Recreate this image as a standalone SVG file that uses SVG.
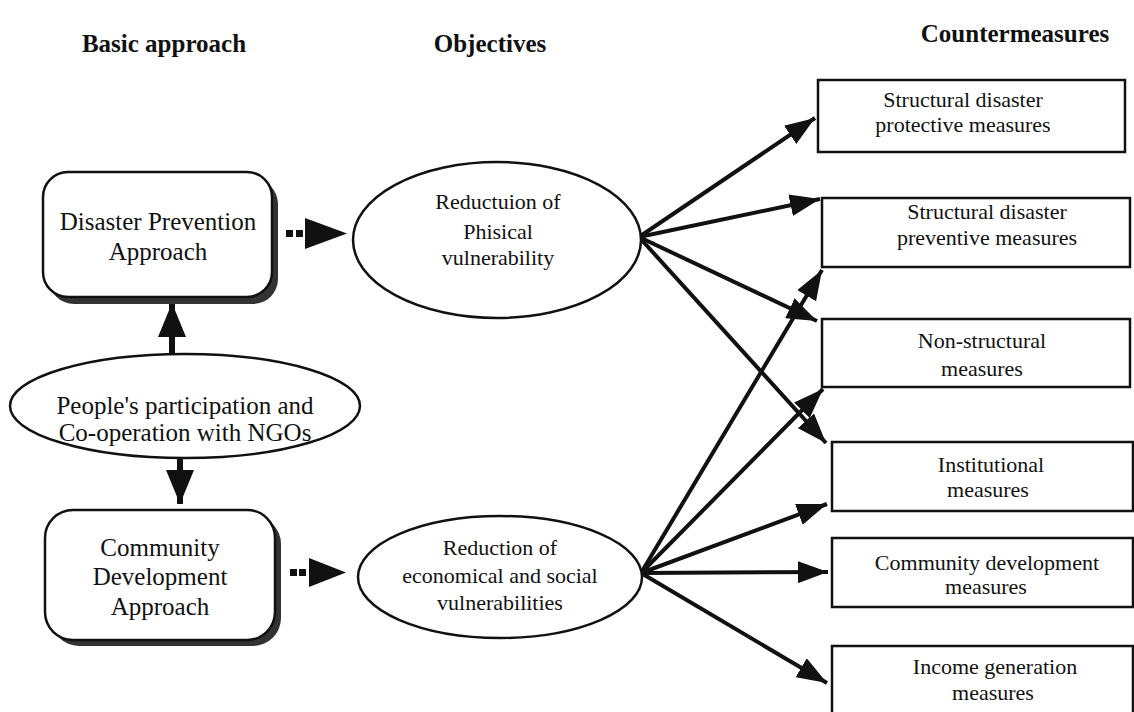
<svg xmlns="http://www.w3.org/2000/svg" width="1134" height="712" viewBox="0 0 1134 712">
<style>
text{font-family:"Liberation Serif","Times New Roman",serif;fill:#111;text-anchor:middle}
.h{font-size:25px;font-weight:bold}
.l{font-size:25px}
.o{font-size:22px}
.r{font-size:22px}
.box{fill:#fff;stroke:#111;stroke-width:2.5}
.shadow{fill:#333}
.ell{fill:#fff;stroke:#111;stroke-width:2.5}
.c{stroke:#111;stroke-width:4;fill:none}
.stem{stroke:#111;stroke-width:6;fill:none}
.dot{fill:#111}
</style>
<defs>
<marker id="ah" viewBox="0 0 30 22" refX="30" refY="11" markerWidth="30" markerHeight="22" markerUnits="userSpaceOnUse" orient="auto">
<path d="M0,0 L30,11 L0,22 z" fill="#111"/>
</marker>
<marker id="big" viewBox="0 0 34 28" refX="34" refY="14" markerWidth="34" markerHeight="28" markerUnits="userSpaceOnUse" orient="auto">
<path d="M0,0 L34,14 L0,28 z" fill="#111"/>
</marker>
</defs>
<rect width="1134" height="712" fill="#fff"/>

<g id="headers">
<text class="h" x="164" y="52">Basic approach</text>
<text class="h" x="490" y="52">Objectives</text>
<text class="h" x="1015" y="42">Countermeasures</text>
</g>

<g id="connectors">
<line class="stem" x1="172" y1="356" x2="172" y2="303" marker-end="url(#big)"/>
<line class="stem" x1="180" y1="457" x2="180" y2="504" marker-end="url(#big)"/>
<rect class="dot" x="286" y="230" width="7" height="7"/>
<rect class="dot" x="296" y="230" width="7" height="7"/>
<path d="M305,218 L347,233.5 L305,249 z" fill="#111"/>
<rect class="dot" x="290" y="569" width="7" height="7"/>
<rect class="dot" x="299" y="569" width="7" height="7"/>
<path d="M309,558 L346,572.5 L309,587 z" fill="#111"/>
<line class="c" x1="639" y1="237" x2="815" y2="118" marker-end="url(#ah)"/>
<line class="c" x1="639" y1="237" x2="820" y2="199" marker-end="url(#ah)"/>
<line class="c" x1="639" y1="237" x2="817" y2="321" marker-end="url(#ah)"/>
<line class="c" x1="639" y1="237" x2="826" y2="443" marker-end="url(#ah)"/>
<line class="c" x1="641" y1="573" x2="822" y2="270" marker-end="url(#ah)"/>
<line class="c" x1="641" y1="573" x2="823" y2="389" marker-end="url(#ah)"/>
<line class="c" x1="641" y1="573" x2="827" y2="504" marker-end="url(#ah)"/>
<line class="c" x1="641" y1="573" x2="828" y2="572" marker-end="url(#ah)"/>
<line class="c" x1="641" y1="573" x2="827" y2="683" marker-end="url(#ah)"/>
</g>

<g id="disaster-prevention">
<rect class="shadow" x="49" y="179" width="229" height="125" rx="25"/>
<rect class="box" x="43" y="172" width="229" height="125" rx="25"/>
<text class="l" x="158" y="230">Disaster Prevention</text>
<text class="l" x="158" y="260">Approach</text>
</g>

<g id="peoples-participation">
<ellipse class="ell" cx="185" cy="406" rx="175" ry="52"/>
<text class="l" x="185" y="414">People's participation and</text>
<text class="l" x="185" y="441">Co-operation with NGOs</text>
</g>

<g id="community-development">
<rect class="shadow" x="51" y="516" width="230" height="130" rx="28"/>
<rect class="box" x="45" y="510" width="230" height="130" rx="28"/>
<text class="l" x="160" y="556">Community</text>
<text class="l" x="160" y="585">Development</text>
<text class="l" x="160" y="615">Approach</text>
</g>

<g id="physical-vulnerability">
<ellipse class="ell" cx="497" cy="240" rx="144" ry="78"/>
<text class="o" x="498" y="209">Reductuion of</text>
<text class="o" x="498" y="239">Phisical</text>
<text class="o" x="498" y="265">vulnerability</text>
</g>

<g id="social-vulnerability">
<ellipse class="ell" cx="500" cy="577" rx="142" ry="61"/>
<text class="o" x="500" y="555">Reduction of</text>
<text class="o" x="500" y="583">economical and social</text>
<text class="o" x="500" y="610">vulnerabilities</text>
</g>

<g id="cm-protective">
<rect class="box" x="818" y="80" width="307" height="72"/>
<text class="r" x="963" y="107">Structural disaster</text>
<text class="r" x="963" y="132">protective measures</text>
</g>
<g id="cm-preventive">
<rect class="box" x="822" y="198" width="308" height="69"/>
<text class="r" x="987" y="219">Structural disaster</text>
<text class="r" x="987" y="245">preventive measures</text>
</g>
<g id="cm-nonstructural">
<rect class="box" x="822" y="319" width="308" height="68"/>
<text class="r" x="982" y="348">Non-structural</text>
<text class="r" x="982" y="376">measures</text>
</g>
<g id="cm-institutional">
<rect class="box" x="832" y="442" width="301" height="69"/>
<text class="r" x="991" y="472">Institutional</text>
<text class="r" x="988" y="497">measures</text>
</g>
<g id="cm-community">
<rect class="box" x="832" y="538" width="301" height="69"/>
<text class="r" x="987" y="570">Community development</text>
<text class="r" x="986" y="594">measures</text>
</g>
<g id="cm-income">
<rect class="box" x="832" y="646" width="301" height="75"/>
<text class="r" x="995" y="674">Income generation</text>
<text class="r" x="993" y="700">measures</text>
</g>
</svg>
